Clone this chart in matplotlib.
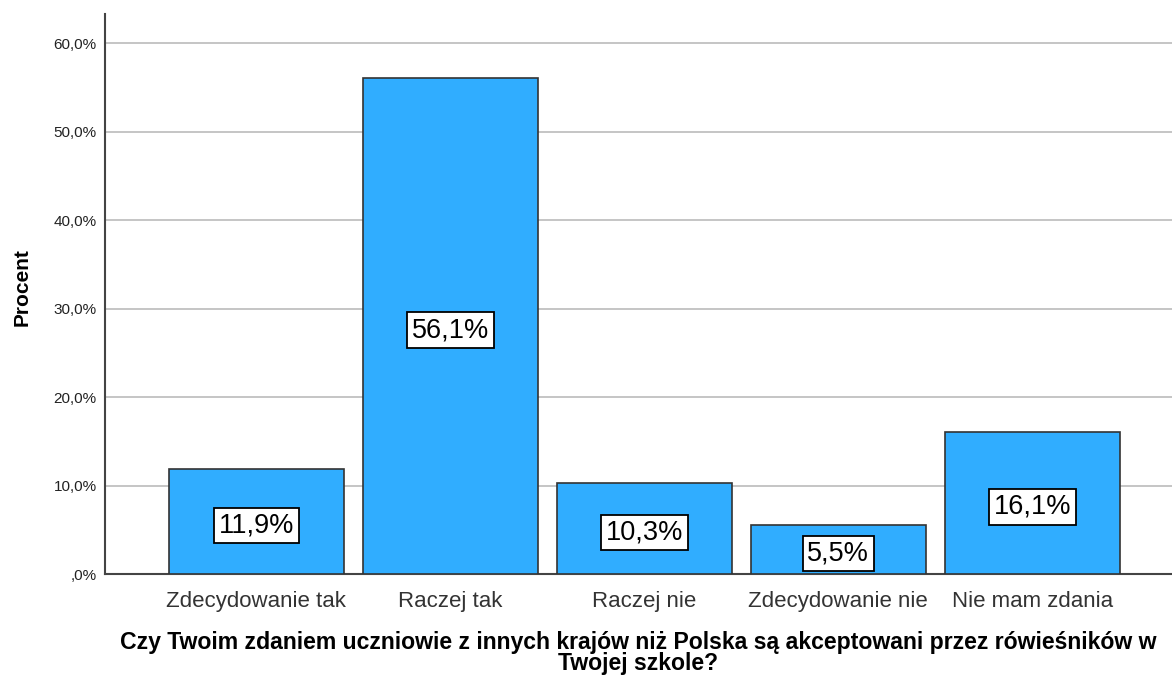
import matplotlib
matplotlib.use("Agg")
import matplotlib.pyplot as plt
from matplotlib.ticker import FuncFormatter

categories = ["Zdecydowanie tak", "Raczej tak", "Raczej nie", "Zdecydowanie nie", "Nie mam zdania"]
values = [11.9, 56.1, 10.3, 5.5, 16.1]
yticks = [0, 10, 20, 30, 40, 50, 60]

plt.rcParams['font.family'] = ['Liberation Sans', 'DejaVu Sans']

fig = plt.figure(figsize=(11.72, 6.76), dpi=100)
ax = fig.add_axes([105/1172, 1 - 574/676, 1 - 105/1172, (574 - 14)/676])

x = list(range(len(categories)))
ax.bar(x, values, width=0.9, color='#30ADFF', edgecolor='#333333', linewidth=1.2, zorder=3)

for xi, v in zip(x, values):
    lab = f"{v:.1f}%".replace('.', ',')
    ax.annotate(lab, (xi, v / 2), xytext=(0, -3), textcoords='offset points',
                ha='center', va='center', fontsize=19.5, color='black', zorder=5,
                bbox=dict(boxstyle='square,pad=0.17', fc='white', ec='black', lw=1.3))

ax.set_xlim(-0.78, 4.72)
ax.set_ylim(0, 63.3)
ax.set_yticks(yticks)

def fmt(v, pos):
    if v == 0:
        return ",0%"
    return f"{v:.1f}%".replace('.', ',')

ax.yaxis.set_major_formatter(FuncFormatter(fmt))
ax.set_xticks(x)
ax.set_xticklabels(categories, fontsize=16, color='#333333')
ax.tick_params(axis='x', length=0, pad=12)
ax.tick_params(axis='y', length=0, pad=6, labelsize=11, labelcolor='#222222')

ax.grid(axis='y', color='#BBBBBB', linewidth=1.2, zorder=0)
ax.set_axisbelow(True)
for s in ['top', 'right']:
    ax.spines[s].set_visible(False)
for s in ['left', 'bottom']:
    ax.spines[s].set_color('#444444')
    ax.spines[s].set_linewidth(1.5)

ax.set_ylabel("Procent", fontsize=15, fontweight='bold')
ax.yaxis.set_label_coords(-0.069, 0.512)
ax.set_xlabel("Czy Twoim zdaniem uczniowie z innych krajów niż Polska są akceptowani przez rówieśników w\nTwojej szkole?",
              fontsize=16.6, fontweight='bold', linespacing=0.9, labelpad=14)

fig.savefig("out.png", dpi=100)
